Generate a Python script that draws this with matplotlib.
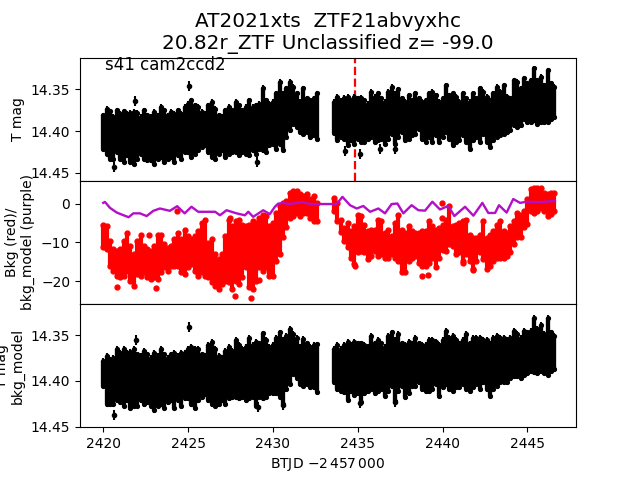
import numpy as np
import matplotlib
matplotlib.use("Agg")
import matplotlib.pyplot as plt

title = "AT2021xts  ZTF21abvyxhc\n20.82r_ZTF Unclassified z= -99.0"
sector = "s41 cam2ccd2"
event_time = 2434.86

t_left = [2420.0,2420.2,2420.4,2420.6,2420.8,2421.0,2421.2,2421.4,2421.6,2421.8,
          2422.0,2422.2,2422.4,2422.6,2422.8,2423.0,2423.2,2423.4,2423.6,2423.8,
          2424.0,2424.2,2424.4,2424.6,2424.8,2425.0,2425.2,2425.4,2425.6,2425.8,
          2426.0,2426.2,2426.4,2426.6,2426.8,2427.0,2427.2,2427.4,2427.6,2427.8,
          2428.0,2428.2,2428.4,2428.6,2428.8,2429.0,2429.2,2429.4,2429.6,2429.8,
          2430.0,2430.2,2430.4,2430.6,2430.8,2431.0,2431.2,2431.4,2431.6,2431.8,
          2432.0,2432.2,2432.4,2432.6]
t_right = [2433.6,2433.8,2434.0,2434.2,2434.4,2434.6,2434.8,2435.0,2435.2,2435.4,
           2435.6,2435.8,2436.0,2436.2,2436.4,2436.6,2436.8,2437.0,2437.2,2437.4,
           2437.6,2437.8,2438.0,2438.2,2438.4,2438.6,2438.8,2439.0,2439.2,2439.4,
           2439.6,2439.8,2440.0,2440.2,2440.4,2440.6,2440.8,2441.0,2441.2,2441.4,
           2441.6,2441.8,2442.0,2442.2,2442.4,2442.6,2442.8,2443.0,2443.2,2443.4,
           2443.6,2443.8,2444.0,2444.2,2444.4,2444.6,2444.8,2445.0,2445.2,2445.4,
           2445.6,2445.8,2446.0,2446.2,2446.4,2446.6]

# T mag panel: upper and lower edge of the cloud
tmag_top_left = [14.378,14.370,14.373,14.380,14.372,14.376,14.373,14.376,14.375,14.374,
                 14.375,14.380,14.372,14.378,14.380,14.374,14.378,14.368,14.372,14.378,
                 14.374,14.376,14.372,14.376,14.368,14.364,14.360,14.366,14.368,14.374,
                 14.376,14.366,14.362,14.370,14.378,14.380,14.372,14.368,14.372,14.362,
                 14.366,14.372,14.368,14.360,14.368,14.366,14.364,14.345,14.360,14.364,
                 14.362,14.352,14.338,14.352,14.346,14.338,14.344,14.352,14.362,14.346,
                 14.358,14.360,14.358,14.352]
tmag_bot_left = [14.424,14.430,14.436,14.437,14.428,14.436,14.440,14.432,14.440,14.442,
                 14.436,14.430,14.436,14.438,14.438,14.442,14.436,14.434,14.440,14.436,
                 14.434,14.440,14.432,14.436,14.428,14.428,14.434,14.430,14.426,14.422,
                 14.420,14.428,14.434,14.436,14.430,14.426,14.434,14.430,14.428,14.428,
                 14.432,14.428,14.430,14.432,14.426,14.430,14.424,14.426,14.428,14.420,
                 14.418,14.424,14.418,14.426,14.410,14.402,14.394,14.398,14.404,14.406,
                 14.404,14.410,14.408,14.412]
tmag_top_right = [14.362,14.356,14.360,14.357,14.356,14.360,14.356,14.358,14.357,14.360,
                  14.364,14.350,14.356,14.352,14.358,14.362,14.350,14.344,14.352,14.347,
                  14.358,14.362,14.354,14.360,14.352,14.358,14.362,14.360,14.352,14.350,
                  14.354,14.362,14.358,14.342,14.354,14.352,14.356,14.362,14.352,14.358,
                  14.362,14.352,14.358,14.346,14.350,14.356,14.360,14.352,14.344,14.350,
                  14.342,14.356,14.358,14.336,14.338,14.346,14.334,14.340,14.336,14.322,
                  14.336,14.332,14.342,14.324,14.340,14.344]
tmag_bot_right = [14.405,14.414,14.410,14.412,14.420,14.414,14.418,14.412,14.416,14.416,
                  14.412,14.410,14.416,14.414,14.412,14.418,14.412,14.406,14.418,14.410,
                  14.404,14.414,14.412,14.408,14.406,14.400,14.412,14.416,14.410,14.416,
                  14.408,14.416,14.410,14.404,14.412,14.420,14.416,14.414,14.408,14.416,
                  14.424,14.414,14.410,14.416,14.406,14.416,14.422,14.414,14.410,14.408,
                  14.406,14.404,14.402,14.396,14.398,14.396,14.388,14.392,14.392,14.390,
                  14.394,14.392,14.392,14.392,14.388,14.386]
tmag_out_t = [2420.65,2421.9,2425.07,2429.05,2434.25,2435.15,2436.3,2437.2]
tmag_out_v = [14.443,14.364,14.346,14.437,14.424,14.428,14.422,14.421]

# Background panel: dot centres at upper and lower edge of the cloud
bkg_top_left = [-5.4,-5.8,-9.7,-11.8,-12.2,-11.8,-9.7,-7.5,-11.0,-13.1,
                -9.7,-8.0,-11.0,-11.8,-12.2,-11.0,-8.0,-8.0,-10.5,-11.4,
                -11.0,-9.2,-7.5,-9.2,-6.7,-8.4,-9.2,-8.4,-7.1,-4.9,
                -4.1,-10.1,-9.2,-13.1,-14.4,-13.1,-8.4,-4.1,-5.8,-4.5,
                -4.1,-5.4,-5.8,-5.4,-4.5,-4.9,-3.6,-2.8,-3.2,-5.8,
                -4.9,-2.4,-0.6,0.2,0.6,2.8,3.2,3.2,2.4,1.9,
                2.4,1.1,1.9,0.2]
bkg_bot_left = [-11.3,-11.7,-16.0,-17.3,-18.6,-19.0,-18.6,-17.3,-19.9,-21.2,
                -18.2,-18.6,-17.7,-19.0,-19.5,-19.0,-19.5,-17.7,-16.4,-17.3,
                -16.0,-16.0,-16.0,-17.7,-18.2,-16.4,-15.6,-17.3,-18.6,-17.7,
                -18.6,-19.0,-20.3,-21.2,-22.0,-20.7,-19.9,-20.3,-22.0,-19.9,
                -20.7,-19.0,-16.4,-21.6,-22.0,-19.9,-16.4,-17.3,-16.4,-18.6,
                -18.6,-14.7,-13.0,-8.7,-6.1,-3.6,-3.1,-2.3,-3.1,-2.3,
                -2.3,-3.6,-4.4,-4.4]
bkg_top_right = [1.5,0.2,-4.1,-6.2,-4.9,-7.1,-5.8,-2.8,-3.2,-5.4,
                 -7.1,-6.7,-6.7,-4.1,-4.5,-7.5,-6.7,-8.4,-4.9,-2.8,
                 -6.7,-7.5,-5.8,-7.1,-7.5,-7.5,-7.1,-7.1,-4.5,-5.8,
                 -6.7,-6.2,-5.5,-4.1,-0.6,-5.8,-5.4,-4.9,-4.5,-4.1,
                 -8.0,-8.8,-8.8,-8.0,-4.5,-8.8,-8.0,-7.1,-5.4,-4.5,
                 -7.1,-7.5,-5.8,-4.5,-2.4,-2.8,-1.9,1.1,3.7,4.1,
                 4.1,4.1,2.8,2.4,2.8,2.8]
bkg_bot_right = [-1.8,-4.4,-7.4,-9.6,-11.3,-13.9,-15.6,-12.6,-12.2,-12.6,
                 -14.3,-13.4,-12.2,-13.4,-13.0,-13.9,-13.9,-13.0,-13.9,-14.7,
                 -17.7,-17.7,-14.7,-13.9,-13.4,-15.2,-16.0,-16.0,-15.2,-13.9,
                 -16.4,-13.9,-12.0,-12.2,-10.4,-10.9,-13.0,-12.6,-14.7,-13.0,
                 -14.7,-16.9,-14.7,-12.6,-14.3,-16.9,-16.0,-14.7,-13.9,-13.9,
                 -13.9,-13.4,-12.6,-10.4,-8.7,-8.7,-6.1,-5.3,-1.8,-2.3,
                 -1.8,-1.0,-1.8,-3.1,-2.7,-1.8]
bkg_out_t = [2420.83,2423.1,2422.71,2424.36,2425.46,2427.78,2428.72,2429.2,2427.5,
             2434.86,2438.77,2439.17,2441.19,2441.78,2439.99,2439.95]
bkg_out_v = [-21.6,-21.7,-8.1,-1.85,-17.4,-23.8,-24.4,-19.7,-3.6,
             -16.1,-18.7,-18.4,-15.2,-17.1,0.2,-3.6]

model_t = [2420.0,2420.1,2420.4,2420.8,2421.2,2421.5,2421.77,2422.16,2422.56,2422.95,
           2423.34,2423.93,2424.36,2424.8,2425.2,2425.6,2426.1,2426.6,2426.88,2427.27,
           2427.86,2428.35,2428.55,2428.84,2429.43,2429.82,2430.12,2430.31,2430.6,2431.0,
           2431.7,2432.2,2432.97,2433.76,2434.1,2434.55,2434.94,2435.33,2435.73,2436.22,
           2436.61,2437.0,2437.34,2437.69,2438.18,2438.58,2438.97,2439.4,2439.85,2440.34,
           2440.7,2441.33,2441.82,2442.35,2442.7,2443.1,2443.33,2443.78,2444.17,2444.57,
           2444.96,2445.75,2446.63]
model_v = [0.2,0.45,-1.1,-2.3,-3.0,-3.5,-2.5,-2.5,-3.2,-1.85,
           -1.25,-1.85,-0.65,-2.5,-0.8,-2.1,-2.1,-2.1,-3.0,-1.7,
           -2.5,-3.0,-2.1,-3.4,-1.7,-2.7,-0.8,0.0,0.2,-0.1,
           0.4,-0.1,-0.1,-0.1,1.76,-0.4,-1.25,-0.6,-2.1,-1.25,
           -2.5,-0.1,0.04,-2.5,-0.4,-1.7,-1.8,0.5,-1.5,-0.6,
           -3.2,-0.8,-3.1,0.2,-2.4,-2.4,-0.4,-2.3,1.2,0.2,
           0.5,0.4,0.7]

# Corrected T mag panel
corr_top_left = [14.375,14.370,14.374,14.372,14.362,14.366,14.362,14.366,14.365,14.362,
                 14.368,14.370,14.364,14.368,14.372,14.366,14.370,14.362,14.368,14.372,
                 14.368,14.366,14.370,14.366,14.366,14.362,14.360,14.362,14.362,14.368,
                 14.370,14.358,14.354,14.362,14.370,14.372,14.364,14.360,14.364,14.352,
                 14.358,14.362,14.360,14.350,14.358,14.354,14.356,14.345,14.352,14.360,
                 14.358,14.350,14.344,14.352,14.348,14.340,14.346,14.350,14.360,14.351,
                 14.356,14.360,14.358,14.357]
corr_bot_left = [14.408,14.428,14.428,14.428,14.424,14.426,14.430,14.424,14.432,14.430,
                 14.430,14.424,14.428,14.426,14.430,14.435,14.430,14.428,14.432,14.426,
                 14.424,14.432,14.424,14.430,14.422,14.422,14.428,14.432,14.424,14.420,
                 14.417,14.424,14.428,14.430,14.428,14.424,14.428,14.422,14.420,14.420,
                 14.422,14.420,14.424,14.422,14.420,14.430,14.420,14.422,14.420,14.416,
                 14.416,14.416,14.420,14.428,14.412,14.406,14.395,14.400,14.406,14.408,
                 14.406,14.410,14.410,14.415]
corr_top_right = [14.362,14.358,14.362,14.358,14.354,14.358,14.354,14.356,14.356,14.358,
                  14.360,14.348,14.356,14.352,14.356,14.360,14.348,14.344,14.352,14.346,
                  14.356,14.358,14.354,14.356,14.350,14.356,14.358,14.358,14.352,14.352,
                  14.354,14.358,14.352,14.342,14.350,14.348,14.352,14.356,14.352,14.346,
                  14.356,14.350,14.350,14.350,14.352,14.352,14.356,14.350,14.348,14.350,
                  14.350,14.352,14.350,14.342,14.346,14.350,14.342,14.344,14.342,14.328,
                  14.340,14.336,14.346,14.328,14.344,14.348]
corr_bot_right = [14.404,14.412,14.414,14.415,14.424,14.414,14.418,14.416,14.426,14.416,
                  14.414,14.412,14.416,14.414,14.412,14.419,14.414,14.408,14.425,14.414,
                  14.408,14.420,14.416,14.408,14.408,14.404,14.412,14.414,14.414,14.412,
                  14.406,14.419,14.410,14.406,14.412,14.414,14.410,14.410,14.406,14.412,
                  14.414,14.410,14.406,14.412,14.404,14.412,14.419,14.412,14.408,14.404,
                  14.404,14.404,14.400,14.398,14.398,14.400,14.396,14.394,14.392,14.393,
                  14.394,14.392,14.394,14.396,14.392,14.390]
corr_out_t = [2420.65,2421.93,2425.07,2429.12,2430.6,2435.15,2437.2]
corr_out_v = [14.437,14.355,14.341,14.428,14.426,14.424,14.423]

xticks = [2420, 2425, 2430, 2435, 2440, 2445]
black = "k"


def draw_cloud(ax, t, top, bot, err):
    t, top, bot = np.array(t), np.array(top), np.array(bot)
    ax.vlines(t, top + err, bot - err, color=black, lw=3.1, zorder=3)
    for edge, sign in ((top, 1), (bot, -1)):
        ax.errorbar(t, edge + sign * err, yerr=err, fmt=".", color=black,
                    ms=5.5, elinewidth=1.5, zorder=3)


fig, (ax1, ax2, ax3) = plt.subplots(3, 1, figsize=(6.4, 4.8), dpi=100, sharex=True)
fig.subplots_adjust(hspace=0)

ax1.axvline(event_time, color="r", ls="--", lw=1.6, zorder=1)
draw_cloud(ax1, t_left, tmag_top_left, tmag_bot_left, 0.003)
draw_cloud(ax1, t_right, tmag_top_right, tmag_bot_right, 0.003)
ax1.errorbar(tmag_out_t, tmag_out_v, yerr=0.006, fmt=".", color=black, ms=6,
             elinewidth=1.5, zorder=3)
ax1.set_ylim(14.4596, 14.312)
ax1.set_yticks([14.35, 14.40, 14.45])
ax1.set_yticklabels(["14.35", "14.40", "14.45"])
ax1.set_ylabel("T mag")
ax1.set_title(title, fontsize=14.4)
ax1.text(2420.1, 14.327, sector, fontsize=12, clip_on=False)

for t, top, bot in ((t_left, bkg_top_left, bkg_bot_left), (t_right, bkg_top_right, bkg_bot_right)):
    ax2.vlines(t, bot, top, color="r", lw=3.0, zorder=2)
    ax2.plot(t, top, ".", color="r", ms=7, zorder=2)
    ax2.plot(t, bot, ".", color="r", ms=7, zorder=2)
ax2.plot(bkg_out_t, bkg_out_v, ".", color="r", ms=7, zorder=2)
ax2.plot(model_t, model_v, "-", color="#b40fc8", lw=1.7, zorder=4)
ax2.set_ylim(-25.9, 5.9)
ax2.set_yticks([0, -10, -20])
ax2.set_ylabel("Bkg (red)/\nbkg_model (purple)")

draw_cloud(ax3, t_left, corr_top_left, corr_bot_left, 0.003)
draw_cloud(ax3, t_right, corr_top_right, corr_bot_right, 0.003)
ax3.errorbar(corr_out_t, corr_out_v, yerr=0.0055, fmt=".", color=black, ms=6,
             elinewidth=1.5, zorder=3)
ax3.set_ylim(14.4505, 14.316)
ax3.set_yticks([14.35, 14.40, 14.45])
ax3.set_yticklabels(["14.35", "14.40", "14.45"])
ax3.set_ylabel("T mag\nbkg_model")

ax3.set_xlim(2418.63, 2447.87)
ax3.set_xticks(xticks)
ax3.set_xlabel(r"BTJD $-2\,457\,000$")
ax1.tick_params(axis="x", bottom=False)
ax2.tick_params(axis="x", bottom=False)

fig.savefig("out.png", dpi=100)
